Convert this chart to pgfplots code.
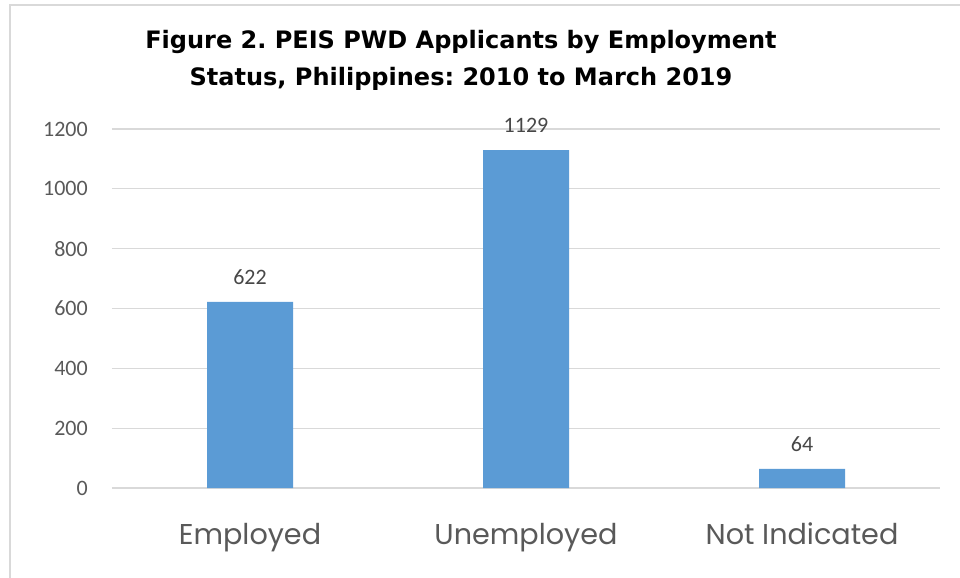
\documentclass[border=0pt]{standalone}
\usepackage{fontspec}
\setmainfont{Carlito}
\newfontfamily\titlefont{DejaVu Sans}
\newfontfamily\catfont{Poppins}
\usepackage{pgfplots}
\pgfplotsset{compat=1.18}
\definecolor{barblue}{HTML}{5B9BD5}
\definecolor{gridgray}{HTML}{D9D9D9}
\definecolor{txtgray}{HTML}{595959}
\frenchspacing
\begin{document}
\begin{tikzpicture}
\path[use as bounding box] (0,0) rectangle (720pt,433.5pt);
\draw[gridgray, line width=1.2pt] (7.5pt,0pt) -- (7.5pt,429.75pt) -- (720pt,429.75pt);
\node[font=\titlefont\bfseries\fontsize{18}{27.75}\selectfont, align=center, anchor=base, text=black] at (345.75pt,369pt) {Figure 2. PEIS PWD Applicants by Employment\\Status, Philippines: 2010 to March 2019};
\begin{axis}[
  at={(84pt,67.5pt)}, anchor=south west,
  scale only axis, width=621pt, height=269.25pt,
  xmin=-0.5, xmax=2.5, ymin=0, ymax=1200,
  ytick={0,200,...,1200},
  xtick={0,1,2},
  xticklabels={Employed,Unemployed,Not Indicated},
  axis line style={draw=none},
  major tick length=0pt,
  ymajorgrids, grid style={gridgray, line width=0.9pt},
  /pgf/number format/assume math mode=true,
  /pgf/number format/1000 sep={},
  yticklabel style={font=\fontsize{16.5}{19}\selectfont, text=txtgray, inner sep=0pt, xshift=-18pt},
  xticklabel style={font=\catfont\fontsize{21.5}{24}\selectfont, text=txtgray, inner sep=0pt, yshift=-26pt},
  ybar, bar width=64.5pt,
  nodes near coords,
  every node near coord/.append style={font=\fontsize{16.5}{19}\selectfont, text=txtgray!80!black, anchor=south, inner sep=0pt, yshift=13pt},
  clip=false,
]
\addplot[fill=barblue, draw=none] coordinates {(0,622) (1,1129) (2,64)};
\end{axis}
\end{tikzpicture}
\end{document}
